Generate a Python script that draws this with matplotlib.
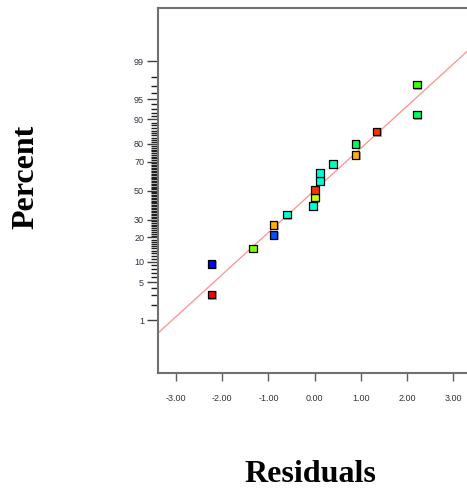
import math
import numpy as np
import matplotlib
matplotlib.use("Agg")
import matplotlib.pyplot as plt
from matplotlib import font_manager
from matplotlib.transforms import ScaledTranslation

# ---- data ----
residuals = [-2.23, -2.23, -1.34, -0.89, -0.89, -0.60, -0.04, 0.00, 0.00,
             0.12, 0.12, 0.39, 0.88, 0.88, 1.34, 2.21, 2.21]
percents = [9.3, 3.1, 15.0, 21.3, 27.0, 33.3, 39.2, 45.0, 50.7,
            56.9, 62.5, 68.3, 74.0, 80.0, 85.7, 91.5, 97.2]
colors = ['#0000ff', '#ff0000', '#80ff00', '#0050ff', '#ffb000', '#00ffd8',
          '#00ffd8', '#c8ff00', '#ff3000', '#00ffd8', '#00ffd8', '#00ffc0',
          '#ffb000', '#00ff50', '#ff3000', '#00ff60', '#40ff10']
line_mu, line_sigma = -0.01, 1.32
x_ticks = [-3, -2, -1, 0, 1, 2, 3]
y_major = [1, 5, 10, 20, 30, 50, 70, 80, 90, 95, 99]
y_minor = list(range(2, 99))

# ---- normal probability scale ----
_erf = np.vectorize(math.erf)

def cdf(z):
    z = np.asarray(z, dtype=float)
    return 0.5 * (1 + _erf(z / math.sqrt(2)))

def ppf(p):
    p = np.clip(np.asarray(p, dtype=float), 1e-12, 1 - 1e-12)
    lo = np.full(p.shape, -10.0)
    hi = np.full(p.shape, 10.0)
    for _ in range(70):
        mid = 0.5 * (lo + hi)
        m = cdf(mid) < p
        lo = np.where(m, mid, lo)
        hi = np.where(m, hi, mid)
    return 0.5 * (lo + hi)

def fwd(pct):
    return ppf(np.asarray(pct, dtype=float) / 100.0)

def inv(z):
    return cdf(z) * 100.0

names = {f.name for f in font_manager.fontManager.ttflist}
tick_font = 'Liberation Sans Narrow' if 'Liberation Sans Narrow' in names else 'Liberation Sans'

fig = plt.figure(figsize=(4.67, 4.91), dpi=100)
ax = fig.add_axes([158 / 467, 118 / 491, 313.4 / 467, 365 / 491])
ax.set_yscale('function', functions=(fwd, inv))
ax.set_xlim(-3.39, 3.39)
ax.set_ylim(inv(-3.279), inv(3.286))

# fitted line
xs = np.linspace(-3.39, 3.39, 200)
ax.plot(xs, inv((xs - line_mu) / line_sigma), color='#ff9090', lw=0.9, zorder=2)

# shadows + markers
shadow = ax.transData + ScaledTranslation(1.0 / 100, -1.0 / 100, fig.dpi_scale_trans)
ax.scatter(residuals, percents, marker='s', s=36, c='#a8a8a8', edgecolors='none',
           transform=shadow, zorder=3)
ax.scatter(residuals, percents, marker='s', s=30, c=colors, edgecolors='black',
           linewidths=0.9, zorder=4)

ax.set_xticks(x_ticks)
ax.set_xticklabels([f"{v:.2f}" for v in x_ticks])
ax.set_yticks(y_major)
ax.set_yticklabels([str(v) for v in y_major])
ax.set_yticks(y_minor, minor=True)
ax.yaxis.set_minor_formatter(matplotlib.ticker.NullFormatter())

for s in ['top', 'left', 'bottom', 'right']:
    ax.spines[s].set_color('#707070')
    ax.spines[s].set_linewidth(1.5)

ax.tick_params(axis='x', which='major', length=6, width=1, color='#606060',
               pad=9, labelsize=6.5, labelcolor='#333333')
ax.tick_params(axis='y', which='major', length=8, width=1, color='#404040',
               pad=2, labelsize=6.5, labelcolor='#333344')
ax.tick_params(axis='y', which='minor', length=5, width=1, color='#202020')
for lab in ax.get_xticklabels() + ax.get_yticklabels():
    lab.set_family(tick_font)

fig.text(26 / 467, 1 - 177 / 491, 'Percent', rotation=90, ha='center', va='center',
         family='Liberation Serif', weight='bold', fontsize=23)
fig.text(310 / 467, 1 - 475 / 491, 'Residuals', ha='center', va='center',
         family='Liberation Serif', weight='bold', fontsize=23)

fig.savefig('out.png', dpi=100)
